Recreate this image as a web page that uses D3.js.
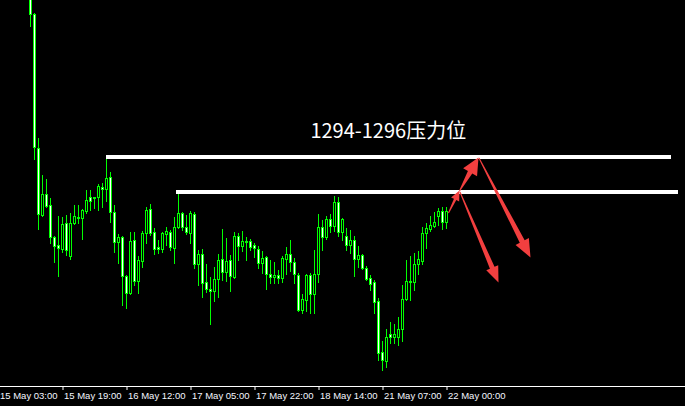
<!DOCTYPE html>
<html><head><meta charset="utf-8">
<script src="https://cdn.jsdelivr.net/npm/d3@7"></script>
<style>html,body{margin:0;padding:0;background:#000;overflow:hidden}svg{display:block}</style>
</head><body><svg id="c" width="685" height="406"></svg>
<script>
// ---- data (XAUUSD H1) ----
const firstBar = 7; // bar index of first drawn candle (bar 0 = 15 May 04:00)
const open = [1305.43,1304.17,1296.51,1292.69,1293.89,1293.26,1291.43,1290.97,1290.74,1292.23,1290.34,1292.23,1292.57,1292.51,1292.91,1293.71,1293.66,1293.71,1294.29,1294.17,1294.86,1292.86,1291.14,1291.43,1289.20,1288.23,1291.26,1288.91,1290.06,1291.66,1293.03,1291.71,1290.86,1290.74,1291.60,1291.71,1290.80,1292.00,1292.80,1292.00,1291.66,1292.74,1289.89,1290.46,1288.86,1288.46,1288.34,1289.03,1290.17,1289.43,1290.11,1289.14,1291.49,1290.91,1291.20,1291.20,1290.97,1290.74,1289.94,1290.29,1289.31,1289.14,1289.26,1289.09,1290.17,1290.46,1290.00,1289.26,1287.26,1287.83,1289.26,1288.17,1289.31,1292.00,1291.43,1292.46,1292.06,1293.43,1291.71,1291.49,1290.97,1291.26,1290.17,1290.40,1289.66,1289.09,1288.86,1287.77,1284.86,1284.34,1285.89,1285.71,1285.71,1286.17,1287.89,1288.86,1288.86,1289.89,1290.06,1291.66,1291.89,1292.06,1292.63,1292.91,1292.29];
const high = [1305.66,1304.23,1297.09,1294.97,1294.74,1293.66,1291.49,1292.63,1292.57,1292.69,1292.80,1293.26,1293.26,1293.03,1294.11,1294.11,1293.71,1294.46,1294.51,1296.00,1295.14,1293.26,1291.60,1291.49,1289.26,1291.71,1291.71,1290.34,1291.77,1293.14,1293.31,1291.94,1291.26,1291.71,1292.00,1291.83,1292.57,1294.06,1292.86,1292.69,1292.91,1292.86,1290.69,1290.74,1289.89,1289.14,1289.71,1290.46,1291.89,1291.37,1290.40,1291.71,1291.66,1291.77,1291.43,1291.31,1291.09,1290.91,1290.63,1290.34,1290.11,1290.00,1289.54,1290.34,1290.86,1291.26,1290.23,1289.37,1288.17,1289.31,1289.37,1290.69,1292.74,1292.40,1292.63,1292.74,1293.77,1293.71,1292.51,1291.94,1291.83,1291.49,1290.91,1290.46,1289.77,1289.26,1288.97,1287.94,1285.49,1286.17,1286.57,1286.46,1286.86,1288.69,1290.11,1290.34,1290.51,1290.63,1292.00,1292.23,1292.63,1292.86,1293.09,1293.14,1293.14];
const low = [1303.49,1295.89,1291.89,1292.63,1293.14,1291.09,1290.00,1289.20,1290.57,1290.40,1290.17,1292.17,1292.23,1291.31,1292.80,1292.97,1293.09,1292.97,1293.14,1293.49,1292.29,1290.57,1289.94,1287.54,1287.37,1288.17,1288.69,1288.23,1289.71,1291.09,1291.54,1290.46,1290.51,1290.57,1290.97,1290.69,1289.94,1291.94,1291.83,1291.60,1291.09,1289.66,1288.69,1288.00,1288.29,1286.46,1287.77,1288.00,1288.97,1288.91,1288.34,1289.09,1290.11,1290.63,1290.11,1290.69,1290.29,1289.66,1289.37,1288.46,1288.80,1288.80,1288.80,1288.86,1289.31,1289.49,1288.80,1287.20,1287.09,1287.20,1287.09,1287.09,1288.86,1290.69,1291.31,1291.71,1291.77,1291.49,1291.26,1290.69,1290.51,1289.20,1289.71,1289.60,1288.97,1288.40,1287.09,1284.40,1283.83,1284.00,1285.37,1285.37,1285.26,1285.49,1287.83,1287.83,1288.40,1289.31,1289.89,1290.80,1291.77,1292.00,1292.11,1291.89,1291.94];
const close = [1304.17,1296.57,1292.74,1293.89,1293.20,1291.43,1290.91,1290.80,1292.17,1290.69,1292.23,1292.63,1292.51,1292.97,1293.54,1293.49,1293.71,1294.34,1294.17,1294.80,1292.86,1291.14,1291.43,1289.20,1288.23,1291.20,1288.91,1290.11,1291.66,1292.97,1291.66,1290.74,1290.74,1291.66,1291.77,1290.86,1292.00,1292.80,1292.00,1291.71,1292.80,1289.89,1290.46,1288.80,1288.46,1288.34,1289.03,1290.11,1289.43,1290.06,1289.20,1291.49,1290.91,1291.20,1291.14,1290.86,1290.80,1289.94,1290.23,1289.31,1289.14,1289.26,1289.09,1290.23,1290.46,1290.00,1289.31,1287.26,1287.89,1289.26,1288.17,1289.31,1292.00,1291.43,1292.46,1292.06,1293.43,1291.71,1292.46,1290.97,1291.26,1290.17,1290.40,1289.66,1289.03,1288.74,1287.71,1284.80,1284.40,1285.71,1285.71,1285.89,1286.17,1287.89,1288.91,1288.91,1289.89,1290.17,1291.66,1291.94,1292.11,1292.29,1292.91,1292.29,1292.91];
const tickBars = [-1, 15, 31, 47, 63, 79, 95, 111];
const tickLabels = ["15 May 03:00","15 May 19:00","16 May 12:00","17 May 05:00","17 May 22:00","18 May 14:00","21 May 07:00","22 May 00:00"];
const levelPrices = [1296, 1294];
const levelFrom = [26, 43.5];
const levelTo = [167.25, 169];
const title = "1294-1296压力位";
const titleAt = [77.1, 1297.1];
const arrowFrom = [[111.5,1292.80],[114.25,1294.06],[119.125,1295.94],[114.375,1294.00]];
const arrowTo   = [[114.25,1294.09],[119,1295.97],[132,1290.26],[124,1288.83]];

// ---- styles ----
const arrowHead = [[10,4.5,2.6],[17,8,5],[18,7.5,5.5],[16,6.5,5]]; // head length, head half width, shaft end width
const GREEN = "#00ff00", RED = "#f23f3f";

const svg = d3.select("#c");
svg.append("rect").attr("width",685).attr("height",406).attr("fill","#000");

const x = d3.scaleLinear().domain([0, 170]).range([2, 682]);        // pixel column of bar
const y = d3.scaleLinear().domain([1294, 1296]).range([192, 157]);

const bars = open.map((o,k)=>({i:firstBar+k,o,h:high[k],l:low[k],c:close[k]}));

const plot = svg.append("g");
// wicks
plot.selectAll("rect.w").data(bars).join("rect").attr("class","w")
  .attr("x", d=>x(d.i)).attr("width",1)
  .attr("y", d=>Math.round(y(d.h)))
  .attr("height", d=>Math.round(y(d.l))-Math.round(y(d.h))+1)
  .attr("fill", GREEN).attr("shape-rendering","crispEdges");
// bodies outline
plot.selectAll("rect.b").data(bars).join("rect").attr("class","b")
  .attr("x", d=>x(d.i)-1).attr("width",3)
  .attr("y", d=>Math.round(y(Math.max(d.o,d.c))))
  .attr("height", d=>Math.round(y(Math.min(d.o,d.c)))-Math.round(y(Math.max(d.o,d.c)))+1)
  .attr("fill", GREEN).attr("shape-rendering","crispEdges");
// bodies fill
plot.selectAll("rect.f").data(bars.filter(d=>Math.round(y(Math.min(d.o,d.c)))-Math.round(y(Math.max(d.o,d.c)))>=2))
  .join("rect").attr("class","f")
  .attr("x", d=>x(d.i)).attr("width",1)
  .attr("y", d=>Math.round(y(Math.max(d.o,d.c)))+1)
  .attr("height", d=>Math.round(y(Math.min(d.o,d.c)))-Math.round(y(Math.max(d.o,d.c)))-1)
  .attr("fill", d=> d.c < d.o ? "#ffffff" : "#000000").attr("shape-rendering","crispEdges");

// resistance levels
levelPrices.forEach((p,k)=>{
  svg.append("rect").attr("x", x(levelFrom[k])).attr("width", x(levelTo[k])-x(levelFrom[k]))
    .attr("y", Math.round(y(p))-2).attr("height",4).attr("fill","#fff").attr("shape-rendering","crispEdges");
});

// title
svg.append("text").attr("x", x(titleAt[0])).attr("y", y(titleAt[1])+0.2)
  .attr("fill","#fff").attr("font-family","'Noto Sans CJK SC','Noto Sans',sans-serif")
  .attr("font-size",20).text(title);

// arrows
arrowFrom.forEach((f,k)=>{
  const t = arrowTo[k];
  const T=[x(f[0])+0.5, y(f[1])], P=[x(t[0])+0.5, y(t[1])];
  const dx=P[0]-T[0], dy=P[1]-T[1], len=Math.hypot(dx,dy);
  const u=[dx/len,dy/len], n=[-u[1],u[0]];
  const [hl,hw,w1]=arrowHead[k], w0=1;
  const B=[P[0]-u[0]*hl, P[1]-u[1]*hl];
  const pts=[
    [T[0]+n[0]*w0/2,T[1]+n[1]*w0/2],
    [B[0]+n[0]*w1/2,B[1]+n[1]*w1/2],
    [B[0]+n[0]*hw,B[1]+n[1]*hw],
    P,
    [B[0]-n[0]*hw,B[1]-n[1]*hw],
    [B[0]-n[0]*w1/2,B[1]-n[1]*w1/2],
    [T[0]-n[0]*w0/2,T[1]-n[1]*w0/2]];
  svg.append("polygon").attr("points", pts.map(p=>p.join(",")).join(" ")).attr("fill", RED);
});

// time axis
const axisY = 386;
svg.append("rect").attr("x",0).attr("y",axisY).attr("width",685).attr("height",1).attr("fill","#fff");
const axis = d3.axisBottom(x).tickValues(tickBars).tickSize(0).tickFormat((d,k)=>tickLabels[k]);
const ag = svg.append("g").attr("transform",`translate(0.5,${axisY})`).call(axis);
ag.select(".domain").remove();
ag.selectAll(".tick").append("line").attr("y1",1).attr("y2",4).attr("stroke","#fff").attr("stroke-width",1);
ag.selectAll(".tick text").attr("text-anchor","start").attr("x",1).attr("y",13).attr("dy",0)
  .attr("fill","#f4f6ff").attr("font-family","'Liberation Sans',Arial,sans-serif").attr("font-size",9.5);
</script></body></html>
